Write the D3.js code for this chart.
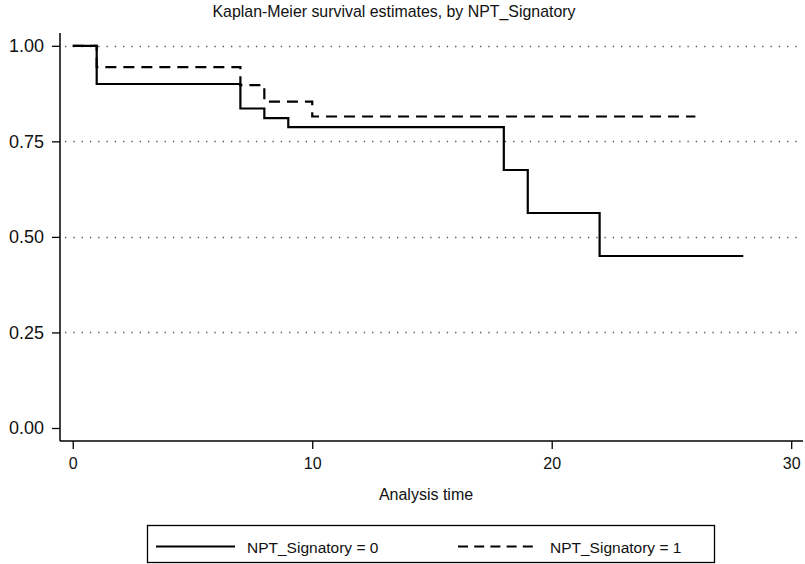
<!DOCTYPE html>
<html>
<head>
<meta charset="utf-8">
<script src="https://cdn.jsdelivr.net/npm/d3@7"></script>
<style>
  html, body { margin: 0; padding: 0; background: #fff; }
  svg { display: block; font-family: "Liberation Sans", Arial, Helvetica, sans-serif; }
</style>
</head>
<body>
<svg id="chart" width="805" height="564"></svg>
<script>
// Kaplan-Meier step estimates for each group (time, survival)
const group0Times = [0, 1, 7, 8, 9, 18, 19, 22, 28];
const group0Surv  = [1.0, 0.9, 0.836, 0.811, 0.787, 0.675, 0.5625, 0.45, 0.45];
const group1Times = [0, 1, 7, 8, 10, 26];
const group1Surv  = [1.0, 0.944, 0.897, 0.854, 0.815, 0.815];

const xTicks = [0, 10, 20, 30];
const yTicks = [0, 0.25, 0.5, 0.75, 1.0];
const gridTicks = [0.25, 0.5, 0.75, 1.0];
const seriesLabels = ["NPT_Signatory = 0", "NPT_Signatory = 1"];

const titleText = "Kaplan-Meier survival estimates, by NPT_Signatory";
const xTitle = "Analysis time";

const svg = d3.select("#chart");

const axisLeft = 60, axisBottom = 441, axisTop = 33, axisRight = 803;
const x = d3.scaleLinear().domain([0, 30]).range([72.75, 791.2]);
const y = d3.scaleLinear().domain([0, 1]).range([428, 45.8]);

// title
svg.append("text")
  .attr("x", 394).attr("y", 17)
  .attr("text-anchor", "middle")
  .attr("font-size", 15.9)
  .attr("fill", "#111")
  .text(titleText);

// dotted horizontal gridlines
svg.append("g").selectAll("line").data(gridTicks).join("line")
  .attr("x1", 65).attr("x2", 801)
  .attr("y1", d => Math.round(y(d)) + 0.5).attr("y2", d => Math.round(y(d)) + 0.5)
  .attr("stroke", "#555").attr("stroke-width", 1.3)
  .attr("stroke-dasharray", "1.3,7");

// y axis
const yAxis = d3.axisLeft(y).tickValues(yTicks).tickFormat(d3.format(".2f"))
  .tickSize(8).tickPadding(8);
const gy = svg.append("g").attr("transform", `translate(${axisLeft},0)`).call(yAxis);
gy.select(".domain").remove();
gy.selectAll(".tick line").attr("stroke", "#000").attr("stroke-width", 1.3);
gy.selectAll(".tick text").attr("font-size", 18).attr("fill", "#111")
  .attr("font-family", "Liberation Sans, Arial, sans-serif");
svg.append("line")
  .attr("x1", axisLeft).attr("x2", axisLeft)
  .attr("y1", axisTop).attr("y2", axisBottom)
  .attr("stroke", "#000").attr("stroke-width", 1.5);

// x axis
const xAxis = d3.axisBottom(x).tickValues(xTicks).tickFormat(d3.format("d"))
  .tickSize(8).tickPadding(9);
const gx = svg.append("g").attr("transform", `translate(0,${axisBottom})`).call(xAxis);
gx.select(".domain").remove();
gx.selectAll(".tick line").attr("stroke", "#000").attr("stroke-width", 1.3);
gx.selectAll(".tick text").attr("font-size", 16).attr("fill", "#111")
  .attr("font-family", "Liberation Sans, Arial, sans-serif");
svg.append("line")
  .attr("x1", axisLeft).attr("x2", axisRight)
  .attr("y1", axisBottom).attr("y2", axisBottom)
  .attr("stroke", "#000").attr("stroke-width", 1.5);

svg.append("text")
  .attr("x", 426).attr("y", 500)
  .attr("text-anchor", "middle")
  .attr("font-size", 16)
  .attr("fill", "#111")
  .text(xTitle);

// survival step curves
const line = d3.line()
  .x(d => x(d[0])).y(d => y(d[1]))
  .curve(d3.curveStepAfter);

const series = [
  { pts: d3.zip(group0Times, group0Surv), dash: null },
  { pts: d3.zip(group1Times, group1Surv), dash: "11,7" }
];

svg.append("g").selectAll("path").data(series).join("path")
  .attr("d", d => line(d.pts))
  .attr("fill", "none")
  .attr("stroke", "#000")
  .attr("stroke-width", 2.2)
  .attr("stroke-dasharray", d => d.dash);

// legend
const lg = svg.append("g");
lg.append("rect")
  .attr("x", 147.5).attr("y", 525.5)
  .attr("width", 567).attr("height", 37)
  .attr("fill", "#fff").attr("stroke", "#000").attr("stroke-width", 1.3);

const legendItems = [
  { x1: 156, x2: 235, tx: 247, dash: null, label: seriesLabels[0] },
  { x1: 458, x2: 537, tx: 550, dash: "10,6.2", label: seriesLabels[1] }
];
legendItems.forEach(it => {
  lg.append("line")
    .attr("x1", it.x1).attr("x2", it.x2)
    .attr("y1", 546.5).attr("y2", 546.5)
    .attr("stroke", "#000").attr("stroke-width", 2.2)
    .attr("stroke-dasharray", it.dash);
  lg.append("text")
    .attr("x", it.tx).attr("y", 552.5)
    .attr("font-size", 15.5)
    .attr("fill", "#111")
    .text(it.label);
});
</script>
</body>
</html>
